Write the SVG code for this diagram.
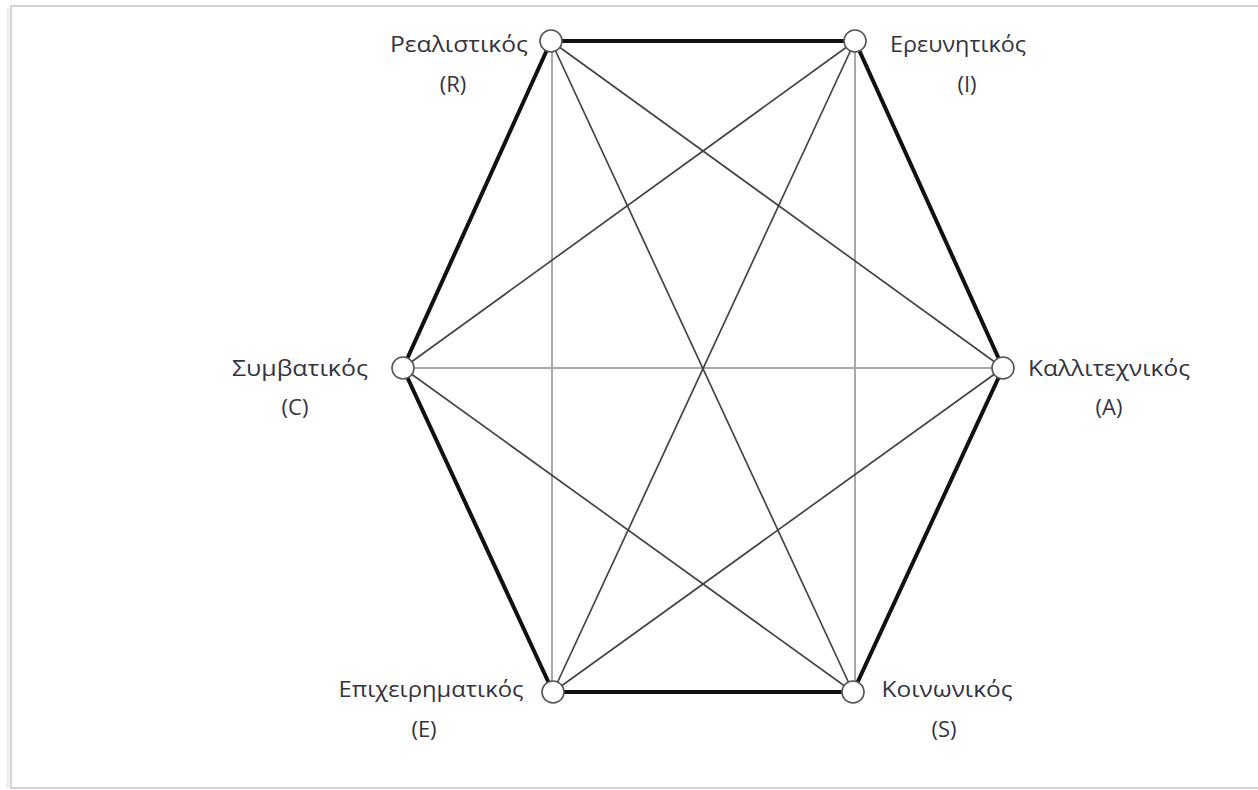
<svg xmlns="http://www.w3.org/2000/svg" width="1258" height="790" viewBox="0 0 1258 790">
<defs>
<style>
.frame{fill:#fff;stroke:#d4d4d4;stroke-width:2}
.thick{stroke:#111;stroke-width:4;fill:none;stroke-linecap:round}
.diag{stroke:#444;stroke-width:1.7;fill:none}
.light{stroke:#a8a8a8;stroke-width:2;fill:none}
.node{fill:#fff;stroke:#555;stroke-width:1.6}
.lbl{font-family:"Open Sans","Noto Sans","DejaVu Sans",sans-serif;font-size:22px;fill:#33333f;text-anchor:middle}
</style>
</defs>
<rect width="1258" height="790" fill="#fff"/>
<rect class="frame" x="11" y="6" width="1260" height="782"/>
<line x1="8" y1="8" x2="8" y2="788" stroke="#ececec" stroke-width="3"/>
<g id="connectors">
<polyline class="thick" points="551,41 855,41 1003,368 853,692 553,692 403,368 551,41"/>
<line class="light" x1="403" y1="368" x2="1003" y2="368"/>
<line class="light" x1="552" y1="41" x2="552" y2="692"/>
<line class="light" x1="855" y1="41" x2="855" y2="692"/>
<line class="diag" x1="551" y1="41" x2="1003" y2="368"/>
<line class="diag" x1="551" y1="41" x2="853" y2="692"/>
<line class="diag" x1="855" y1="41" x2="403" y2="368"/>
<line class="diag" x1="855" y1="41" x2="553" y2="692"/>
<line class="diag" x1="403" y1="368" x2="853" y2="692"/>
<line class="diag" x1="1003" y1="368" x2="553" y2="692"/>
</g>
<g id="node-R"><circle class="node" cx="551" cy="41" r="11"/><text class="lbl" x="459" y="52" textLength="138" lengthAdjust="spacingAndGlyphs">Ρεαλιστικός</text><text class="lbl" x="453" y="92">(R)</text></g>
<g id="node-I"><circle class="node" cx="855" cy="41" r="11"/><text class="lbl" x="958" y="52" textLength="136" lengthAdjust="spacingAndGlyphs">Ερευνητικός</text><text class="lbl" x="967" y="92">(I)</text></g>
<g id="node-A"><circle class="node" cx="1003" cy="368" r="11"/><text class="lbl" x="1109" y="376" textLength="162" lengthAdjust="spacingAndGlyphs">Καλλιτεχνικός</text><text class="lbl" x="1109" y="415">(A)</text></g>
<g id="node-S"><circle class="node" cx="853" cy="692" r="11"/><text class="lbl" x="947" y="697" textLength="131" lengthAdjust="spacingAndGlyphs">Κοινωνικός</text><text class="lbl" x="944" y="737">(S)</text></g>
<g id="node-E"><circle class="node" cx="553" cy="692" r="11"/><text class="lbl" x="431" y="697" textLength="185" lengthAdjust="spacingAndGlyphs">Επιχειρηματικός</text><text class="lbl" x="424" y="737">(E)</text></g>
<g id="node-C"><circle class="node" cx="403" cy="368" r="11"/><text class="lbl" x="300" y="376" textLength="136" lengthAdjust="spacingAndGlyphs">Συμβατικός</text><text class="lbl" x="295" y="415">(C)</text></g>
</svg>
